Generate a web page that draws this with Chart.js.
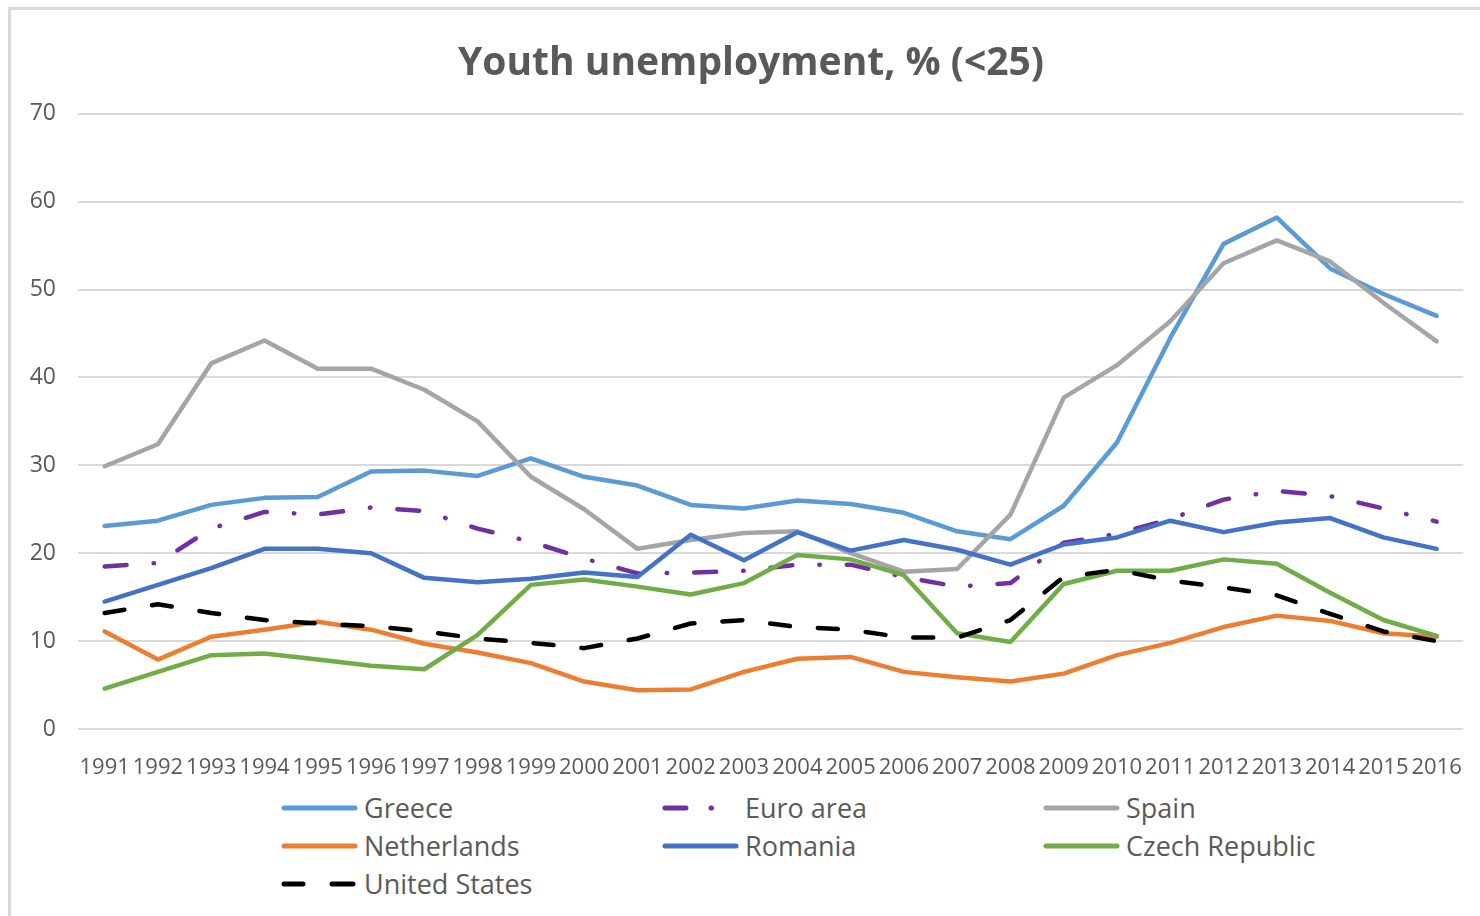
<!DOCTYPE html>
<html>
<head>
<meta charset="utf-8">
<title>Youth unemployment</title>
<script src="https://cdn.jsdelivr.net/npm/chart.js@4.4.1/dist/chart.umd.min.js"></script>
<style>
  html, body { margin: 0; padding: 0; background: #fff; }
  body { width: 1480px; height: 916px; position: relative; overflow: hidden; font-family: "Open Sans", sans-serif; }
  #frame { position: absolute; left: 8px; top: 7px; right: 0; bottom: 0; border-left: 3px solid #d9d9d9; border-top: 3px solid #d9d9d9; }
  #chartBox { position: absolute; left: 0; top: 0; width: 1480px; height: 780px; }
  #legend { position: absolute; left: 281px; top: 789px; display: grid; grid-template-columns: 381px 381px 381px; grid-auto-rows: 38px; }
  .item { display: flex; align-items: center; }
  .item svg { width: 77px; height: 8px; margin-right: 6px; flex: none; }
  .item span { font-size: 27px; color: #595959; line-height: 38px; }
</style>
</head>
<body>
<div id="frame"></div>
<div id="chartBox"><canvas id="chart"></canvas></div>
<div id="legend"></div>

<script>
const years = ["1991", "1992", "1993", "1994", "1995", "1996", "1997", "1998", "1999", "2000",
  "2001", "2002", "2003", "2004", "2005", "2006", "2007", "2008", "2009", "2010",
  "2011", "2012", "2013", "2014", "2015", "2016"];

const greece = [23.1, 23.7, 25.5, 26.3, 26.4, 29.3, 29.4, 28.8, 30.8, 28.7, 27.7, 25.5, 25.1,
  26.0, 25.6, 24.6, 22.5, 21.6, 25.4, 32.6, 44.5, 55.2, 58.2, 52.4, 49.5, 47.0];
const euroArea = [18.5, 18.9, 22.8, 24.7, 24.4, 25.2, 24.8, 22.8, 21.3, 19.4, 17.7, 17.8, 18.0,
  18.7, 18.7, 17.3, 16.2, 16.6, 21.2, 22.2, 23.9, 26.1, 27.1, 26.5, 25.1, 23.6];
const spain = [29.9, 32.4, 41.6, 44.2, 41.0, 41.0, 38.6, 35.0, 28.7, 25.0, 20.5, 21.5, 22.3,
  22.5, 20.0, 17.9, 18.2, 24.4, 37.7, 41.4, 46.4, 53.0, 55.6, 53.2, 48.5, 44.1];
const netherlands = [11.1, 7.9, 10.5, 11.3, 12.2, 11.3, 9.7, 8.7, 7.5, 5.4, 4.4, 4.5, 6.5,
  8.0, 8.2, 6.5, 5.9, 5.4, 6.3, 8.4, 9.8, 11.6, 12.9, 12.3, 10.9, 10.5];
const romania = [14.5, 16.4, 18.3, 20.5, 20.5, 20.0, 17.2, 16.7, 17.1, 17.8, 17.3, 22.1, 19.2,
  22.4, 20.3, 21.5, 20.4, 18.7, 21.0, 21.8, 23.7, 22.4, 23.5, 24.0, 21.8, 20.5];
const czechRepublic = [4.6, 6.5, 8.4, 8.6, 7.9, 7.2, 6.8, 10.7, 16.4, 17.0, 16.2, 15.3, 16.6,
  19.8, 19.3, 17.5, 10.9, 9.9, 16.5, 18.0, 18.0, 19.3, 18.8, 15.5, 12.4, 10.6];
const unitedStates = [13.2, 14.2, 13.2, 12.4, 12.0, 11.7, 11.1, 10.3, 9.8, 9.2, 10.3, 12.0, 12.4,
  11.6, 11.3, 10.4, 10.4, 12.4, 17.3, 18.1, 16.9, 16.1, 15.2, 13.1, 11.1, 10.0];

const yTicks = [0, 10, 20, 30, 40, 50, 60, 70];

const textGray = "#595959";
const gridGray = "#d9d9d9";

// series in legend order; the last one ends up on top
const series = [
  { label: "Greece", data: greece, color: "#5b9bd5", dash: [], swatch: "" },
  { label: "Euro area", data: euroArea, color: "#7030a0", dash: [22, 27, 0.5, 27], swatch: "21 25 0.5 99" },
  { label: "Spain", data: spain, color: "#a5a5a5", dash: [], swatch: "" },
  { label: "Netherlands", data: netherlands, color: "#ed7d31", dash: [], swatch: "" },
  { label: "Romania", data: romania, color: "#4472c4", dash: [], swatch: "" },
  { label: "Czech Republic", data: czechRepublic, color: "#70ad47", dash: [], swatch: "" },
  { label: "United States", data: unitedStates, color: "#000000", dash: [20, 28], swatch: "19 29 21 99" }
];

Chart.defaults.font.family = "'Open Sans', sans-serif";
Chart.defaults.color = textGray;

const datasets = series.map((s, i) => ({
  label: s.label,
  data: s.data,
  borderColor: s.color,
  backgroundColor: s.color,
  borderWidth: 4.5,
  borderDash: s.dash,
  borderCapStyle: "round",
  borderJoinStyle: "round",
  pointRadius: 0,
  pointHoverRadius: 0,
  tension: 0,
  fill: false,
  order: series.length - i
}));

const chart = new Chart(document.getElementById("chart"), {
  type: "line",
  data: { labels: years, datasets: datasets },
  options: {
    responsive: true,
    maintainAspectRatio: false,
    animation: false,
    layout: { padding: { left: 30, right: 8, top: 0, bottom: 1 } },
    plugins: {
      legend: { display: false },
      tooltip: { enabled: false },
      title: {
        display: true,
        text: "Youth unemployment, % (<25)",
        color: textGray,
        font: { size: 39, weight: "bold" },
        padding: { top: 40, bottom: 27 }
      }
    },
    scales: {
      x: {
        offset: true,
        grid: { display: false },
        border: { display: false },
        ticks: {
          autoSkip: false,
          maxRotation: 0,
          minRotation: 0,
          padding: 18,
          color: textGray,
          font: { size: 22 }
        },
        afterFit: (scale) => { scale.height = 50; }
      },
      y: {
        min: 0,
        max: 70,
        afterBuildTicks: (scale) => { scale.ticks = yTicks.map((v) => ({ value: v })); },
        grid: { color: gridGray, lineWidth: 2, drawTicks: false },
        border: { display: false },
        ticks: {
          padding: 22,
          color: textGray,
          font: { size: 23 }
        },
        afterFit: (scale) => { scale.width = 48; }
      }
    }
  }
});

// HTML legend laid out in three columns
const legendBox = document.getElementById("legend");
series.forEach((s) => {
  const item = document.createElement("div");
  item.className = "item";
  const dashAttr = s.swatch ? ` stroke-dasharray="${s.swatch}"` : "";
  item.innerHTML =
    `<svg viewBox="0 0 77 8"><line x1="3" y1="4" x2="74" y2="4" stroke="${s.color}" stroke-width="5" stroke-linecap="round"${dashAttr}/></svg>` +
    `<span>${s.label}</span>`;
  legendBox.appendChild(item);
});
</script>
</body>
</html>
